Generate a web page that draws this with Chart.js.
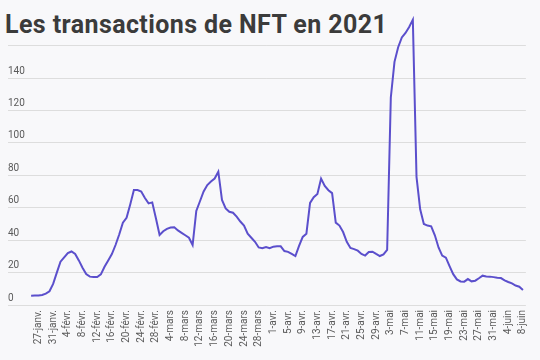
<!DOCTYPE html>
<html><head><meta charset="utf-8">
<script src="https://cdn.jsdelivr.net/npm/chart.js@4/dist/chart.umd.min.js"></script>
<style>
html,body{margin:0;padding:0;background:#f8f8fa;}
#wrap{position:relative;width:540px;height:360px;overflow:hidden;}
h1{position:absolute;left:5px;top:12px;margin:0;font:700 25px/25px Roboto,sans-serif;letter-spacing:0.4px;color:#3b3b3b;white-space:nowrap;}
canvas{position:absolute;left:0;top:0;}
</style></head><body>
<div id="wrap"><h1>Les transactions de NFT en 2021</h1><canvas id="c" width="540" height="360"></canvas></div>
<script>
// Month table for the daily categories (25 janv. -> 8 juin 2021)
const monthNames = ['janv.','févr.','mars','avr.','mai','juin'];
const monthFirstDay = [25,1,1,1,1,1];
const monthLastDay = [31,28,31,30,31,8];

// Daily values
const values = [
  5.7,5.8,5.9,6.2,7,8.5,13,20,26.7,29.4,
  32,33,31.5,27.5,23,19.1,17.5,17.3,17.3,18.9,
  23.6,27.5,31.4,37,43.5,50.8,53.8,62,70.9,70.9,
  70,66,62.7,63.3,53.5,43.2,45.5,47,47.8,47.9,
  46,44.5,43,41.5,37,58,64,70,74,76.2,
  78,82.2,64.8,59.6,57.5,56.9,54.5,51.5,49,44,
  41.5,39,35.5,35,35.8,35,36,36.2,36.2,33.3,
  32.8,31.5,30.2,36.5,42,44,63,66.5,68.5,78,
  73.5,70.8,69,50.8,49,45,39,35.2,34.5,33.5,
  31.5,30.5,32.7,32.9,31.5,30.2,31.2,34,128,150,
  159,165,167.8,171.5,176,79,59,50,49,48.5,
  43,35.5,30.5,29.2,24,19,15.8,14.5,14.4,16,
  14.6,15,16.5,18.1,17.6,17.5,17.2,16.8,16.6,15.2,
  14.2,13.3,12,11.3,9.3
];

const tickLabels = ['27-janv.','31-janv.','4-févr.','8-févr.','12-févr.','16-févr.','20-févr.','24-févr.','28-févr.',
  '4-mars','8-mars','12-mars','16-mars','20-mars','24-mars','28-mars','1-avr.','5-avr.','9-avr.','13-avr.',
  '17-avr.','21-avr.','25-avr.','29-avr.','3-mai','7-mai','11-mai','15-mai','19-mai','23-mai','27-mai','31-mai',
  '4-juin','8-juin'];
const yTicks = [0,20,40,60,80,100,120,140,160];

const dates = [];
monthNames.forEach((m,k)=>{ for(let d=monthFirstDay[k]; d<=monthLastDay[k]; d++) dates.push(d+'-'+m); });
const tickPositions = tickLabels.map(l=>dates.indexOf(l));

new Chart(document.getElementById('c').getContext('2d'), {
  type:'line',
  data:{ datasets:[{
    data: values.map((v,i)=>({x:i,y:v})),
    borderColor:'#5b4fcc', borderWidth:2, pointRadius:0, tension:0, fill:false, clip:false
  }]},
  options:{
    responsive:false, animation:false,
    layout:{padding:{left:8,right:9,top:45.6,bottom:0}},
    plugins:{legend:{display:false},tooltip:{enabled:false},title:{display:false}},
    scales:{
      x:{type:'linear',min:-6.3,max:134.8,
        grid:{display:false,drawTicks:false}, border:{display:false},
        afterBuildTicks:(s)=>{ s.ticks = tickPositions.map(v=>({value:v})); },
        afterFit:(s)=>{ s.height = 55; },
        ticks:{autoSkip:false,maxRotation:90,minRotation:90,padding:5,color:'#5a5a5a',
          font:{family:'Roboto',size:10}, callback:(v)=>dates[v]}
      },
      y:{min:0,max:160,
        afterBuildTicks:(s)=>{ s.ticks = yTicks.map(v=>({value:v})); },
        grid:{color:'#dddddd',drawTicks:false,lineWidth:1}, border:{display:false},
        ticks:{mirror:true,padding:0,labelOffset:-7,color:'#5a5a5a',
          font:{family:'Roboto',size:10}, callback:(v)=> v===160 ? '' : String(v)}
      }
    }
  }
});
</script>
</body></html>
